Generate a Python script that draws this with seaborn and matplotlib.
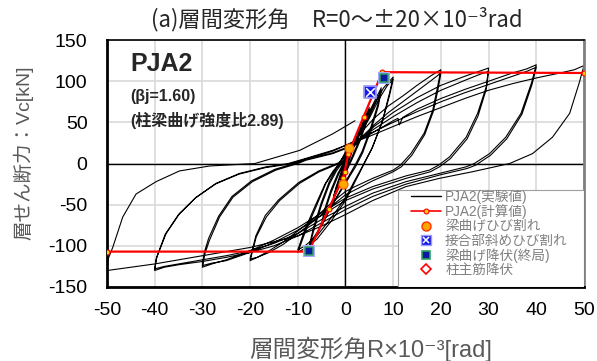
import matplotlib
matplotlib.use("Agg")
import pandas as pd
import matplotlib.pyplot as plt
from matplotlib.lines import Line2D
from matplotlib.patches import Rectangle
from matplotlib.legend_handler import HandlerTuple
import seaborn as sns

cyc_01a = [(0, 0), (0.5, 9), (1.0, 17), (0.7, 10), (0.2, 1), (-0.5, -9), (-1.0, -18), (-0.7, -11), (-0.2, -2)]
cyc_01b = [(0.5, 8), (1.0, 16), (0.7, 9), (0.2, 0), (-0.5, -10), (-1.0, -17), (-0.7, -10), (-0.2, -1)]
cyc_02a = [(1.0, 14), (2.0, 30), (2.5, 38), (2.0, 27), (1.0, 10), (0.0, -6), (-1.0, -20), (-2.0, -34),
           (-2.5, -42), (-2.0, -31), (-1.0, -14), (0.0, 2)]
cyc_02b = [(1.0, 13), (2.0, 28), (2.5, 36), (2.0, 25), (1.0, 8), (0.0, -8), (-1.0, -21), (-2.0, -33),
           (-2.5, -40), (-2.0, -29), (-1.0, -12), (0.0, 3)]
cyc_05a = [(1.5, 20), (3.0, 42), (4.2, 58), (5.0, 68), (4.3, 52), (3.0, 30), (1.5, 10), (0.0, -10),
           (-1.5, -28), (-3.0, -50), (-4.2, -66), (-5.0, -76), (-4.3, -58), (-3.0, -35), (-1.5, -14), (0.0, 4)]
cyc_05b = [(1.5, 18), (3.0, 38), (4.2, 55), (5.0, 65), (4.4, 50), (3.1, 28), (1.6, 8), (0.0, -12),
           (-1.5, -30), (-3.0, -50), (-4.2, -64), (-5.0, -73), (-4.4, -56), (-3.1, -33), (-1.6, -12), (0.0, 5)]
cyc_07a = [(1.5, 20), (3.0, 40), (5.0, 63), (6.5, 80), (7.5, 92), (6.8, 72), (5.2, 42), (3.5, 15), (2.0, -2),
           (0.0, -22), (-2.0, -42), (-4.0, -64), (-6.0, -86), (-7.5, -100), (-6.5, -78), (-5.0, -50),
           (-3.3, -24), (-1.8, -8), (-0.5, 2)]
cyc_07b = [(1.5, 18), (3.0, 36), (5.0, 58), (6.5, 76), (7.5, 89), (6.9, 70), (5.3, 40), (3.6, 13), (2.1, -4),
           (0.0, -24), (-2.0, -43), (-4.0, -63), (-6.0, -84), (-7.5, -97), (-6.6, -76), (-5.1, -48),
           (-3.4, -22), (-1.9, -6), (-0.6, 3)]
cyc_10a = [(0.5, 10), (2.5, 32), (4.0, 50), (6.0, 72), (8.0, 92), (10.0, 105), (9.2, 85), (7.8, 53),
           (5.7, 20), (3.6, -4), (2.0, -22), (0.0, -45), (-3.0, -70), (-6.0, -92), (-8.5, -103),
           (-10.0, -108), (-8.3, -81), (-6.2, -53), (-4.1, -24), (-2.5, -10), (-1.3, 0)]
cyc_10b = [(0.0, 12), (2.5, 30), (5.0, 55), (7.0, 78), (8.8, 95), (10.0, 102), (9.2, 82), (7.7, 50),
           (5.5, 18), (3.4, -5), (1.8, -22), (0.0, -42), (-3.0, -66), (-6.0, -88), (-8.5, -100),
           (-10.0, -105), (-8.5, -80), (-6.4, -52), (-4.3, -25), (-2.7, -10), (-1.3, 0)]
cyc_20a = [(0.0, 14), (3.0, 36), (6.0, 55), (9.0, 70), (12.0, 82), (15.0, 95), (18.0, 107), (20.0, 114),
           (19.3, 93), (18.3, 65), (16.5, 37), (13.7, 12), (11.5, -2), (10.0, -8), (5.7, -18), (2.0, -28),
           (0.0, -34), (-3.0, -48), (-6.0, -64), (-10.0, -82), (-13.0, -95), (-16.0, -106), (-18.5, -114),
           (-20.0, -118), (-18.7, -89), (-16.6, -65), (-13.8, -45), (-9.6, -24), (-5.5, -10), (-1.3, 0)]
cyc_20b = [(0.0, 10), (3.0, 30), (6.0, 47), (9.0, 62), (12.0, 75), (15.0, 88), (18.0, 101), (20.0, 110),
           (19.4, 90), (18.4, 63), (16.6, 35), (13.9, 10), (11.7, -4), (10.0, -10), (5.7, -21), (2.0, -32),
           (0.0, -38), (-3.0, -52), (-6.0, -67), (-10.0, -85), (-13.0, -98), (-16.0, -108), (-18.5, -114),
           (-20.0, -116), (-18.8, -88), (-16.8, -63), (-14.0, -44), (-9.8, -23), (-5.6, -9), (-1.4, 1)]
cyc_30a = [(0.0, 10), (3.0, 28), (6.0, 45), (10.0, 62), (15.0, 80), (20.0, 95), (25.0, 106), (28.0, 112),
           (30.0, 116), (29.5, 93), (27.7, 61), (25.3, 32), (21.8, 8), (19.5, -2), (17.6, -8), (12.7, -15),
           (5.7, -28), (0.0, -42), (-5.0, -60), (-10.0, -78), (-15.0, -93), (-20.0, -106), (-25.0, -117),
           (-28.0, -122), (-30.0, -126), (-29.5, -110), (-28.5, -93), (-26.4, -65), (-23.6, -41),
           (-19.5, -22), (-14.6, -8), (-10.0, 0), (-8.3, 4), (-2.7, 12)]
cyc_30b = [(0.0, 18), (3.0, 30), (6.0, 42), (10.0, 57), (15.0, 74), (20.0, 89), (25.0, 101), (28.0, 108),
           (30.0, 112), (29.5, 90), (27.8, 58), (25.5, 30), (22.0, 6), (19.7, -4), (17.8, -10), (12.7, -18),
           (5.7, -31), (0.0, -45), (-5.0, -63), (-10.0, -81), (-15.0, -96), (-20.0, -108), (-25.0, -118),
           (-28.0, -121), (-30.0, -124), (-29.6, -108), (-28.7, -91), (-26.6, -64), (-23.8, -40),
           (-19.7, -21), (-14.8, -7), (-10.2, 1), (-8.3, 5), (-2.7, 13)]
cyc_40a = [(0.0, 19), (5.0, 35), (10.0, 52), (11.0, 55), (11.3, 47), (12.0, 56), (15.0, 66), (20.0, 79),
           (25.0, 90), (30.0, 100), (35.0, 110), (38.0, 115), (40.0, 120), (39.0, 98), (36.8, 61),
           (33.6, 32), (30.2, 12), (27.0, 0), (25.3, -4), (19.7, -12), (12.7, -22), (5.7, -36), (0.0, -52),
           (-5.0, -68), (-10.0, -85), (-15.0, -97), (-20.0, -106), (-25.0, -112), (-30.0, -117),
           (-35.0, -122), (-38.0, -125), (-40.0, -128), (-39.6, -115), (-39.3, -110), (-37.6, -85),
           (-34.8, -61), (-31.3, -41), (-27.1, -24), (-22.2, -12), (-16.6, -4), (-12.0, 0), (-9.6, 4),
           (-2.7, 16)]
cyc_40b = [(0.0, 22), (5.0, 36), (10.0, 50), (15.0, 63), (20.0, 75), (25.0, 86), (30.0, 96), (35.0, 106),
           (38.0, 112), (40.0, 117), (39.1, 96), (37.0, 60), (33.8, 30), (30.4, 10), (27.3, -2), (25.5, -6),
           (19.7, -14), (12.7, -25), (5.7, -40), (0.0, -56), (-5.0, -72), (-10.0, -88), (-15.0, -100),
           (-20.0, -108), (-25.0, -114), (-30.0, -119), (-35.0, -123), (-38.0, -126), (-40.0, -130),
           (-39.7, -116), (-39.4, -111), (-37.8, -86), (-35.0, -62), (-31.5, -42), (-27.3, -25),
           (-22.4, -13), (-16.8, -5), (-12.2, -1), (-9.8, 3), (-2.7, 15)]
cyc_50 = [(0.0, 22), (5.0, 33), (10.0, 45), (15.0, 57), (20.0, 68), (25.0, 79), (30.0, 89), (35.0, 97),
          (40.0, 104), (45.0, 110), (48.0, 114), (50.0, 119), (49.0, 98), (47.0, 61), (43.4, 32), (39.2, 12),
          (34.4, 0), (26.6, -10), (19.7, -18), (12.7, -28), (5.7, -45), (0.0, -62), (-5.0, -76),
          (-10.0, -88), (-20.0, -102), (-30.0, -112), (-40.0, -122), (-45.0, -126), (-50.0, -130),
          (-49.7, -115), (-48.8, -102), (-46.7, -65), (-43.9, -37), (-39.7, -22), (-34.8, -9),
          (-28.5, -3), (-19.0, 0), (-9.6, 16), (-2.7, 36), (2.0, 52)]

# calculated skeleton (red)
calc_r = [-50, -7.7, -3.5, -0.5, -0.2, 0.6, 3.8, 7.7, 50]
calc_v = [-107, -107, -55, -17, -10.6, 12, 57, 111, 110]

# event markers
crack_r, crack_v = [0.7, -0.5], [19, -24.4]          # beam flexural crack
joint_r, joint_v = [5.2], [87]                       # joint diagonal crack
yield_r, yield_v = [8.0, -7.7], [103.6, -106.6]      # beam flexural yield
col_r, col_v = [], []                                # column rebar yield (none on plot)

cycles = [cyc_01a, cyc_01b, cyc_02a, cyc_02b, cyc_05a, cyc_05b, cyc_07a, cyc_07b,
          cyc_10a, cyc_10b, cyc_20a, cyc_20b, cyc_30a, cyc_30b, cyc_40a, cyc_40b, cyc_50]
exp = pd.DataFrame([p for c in cycles for p in c], columns=['R', 'V'])

sns.set_style('white')
plt.rcParams['font.family'] = ['Liberation Sans', 'Noto Sans CJK JP', 'DejaVu Sans']
plt.rcParams['axes.unicode_minus'] = False

fig = plt.figure(figsize=(5.97, 3.61), dpi=100)
ax = fig.add_axes([0.1792, 0.205, 0.799, 0.684])

ax.grid(True, color='#d9d9d9', lw=1.2)
ax.set_axisbelow(True)
ax.axhline(0, color='black', lw=1, zorder=1.5)
ax.axvline(0, color='black', lw=1, zorder=1.5)

sns.lineplot(data=exp, x='R', y='V', sort=False, estimator=None, color='black', lw=0.8, ax=ax, zorder=2)
sns.lineplot(x=calc_r, y=calc_v, sort=False, estimator=None, color='red', lw=1.6, marker='o',
             markersize=3.5, markerfacecolor='#ffd400', markeredgecolor='red', markeredgewidth=0.8,
             ax=ax, zorder=3)

ax.scatter(crack_r, crack_v, marker='o', s=42, color='#ffa500', edgecolor='#ff5a00', lw=0.8, zorder=5)
ax.scatter(joint_r, joint_v, marker='s', s=70, color='#1a1ae6', edgecolor='#9a9aff', lw=1.3, zorder=5)
ax.scatter(joint_r, joint_v, marker='x', s=38, color='white', lw=1.1, zorder=6)
ax.scatter(yield_r, yield_v, marker='s', s=75, color='#a8a8ff', edgecolor='none', zorder=5)
ax.scatter(yield_r, yield_v, marker='s', s=38, color='#0a1aa0', edgecolor='#2ea060', lw=1.1, zorder=6)
ax.scatter(col_r, col_v, marker='D', s=20, facecolor='white', edgecolor='red', lw=1.2, zorder=6)

ax.set_xlim(-50, 50)
ax.set_ylim(-150, 150)
ax.set_xticks(range(-50, 51, 10))
ax.set_yticks(range(-150, 151, 50))
ax.tick_params(direction='in', length=5, width=1.5, labelsize=14, colors='black')
ax.tick_params(axis='x', pad=11)
ax.tick_params(axis='y', pad=14)

for side in ['left', 'bottom']:
    ax.spines[side].set_color('black')
    ax.spines[side].set_linewidth(2)
ax.spines['top'].set_color('black')
ax.spines['top'].set_linewidth(1.2)
ax.spines['right'].set_color('#808080')
ax.spines['right'].set_linewidth(2)

ax.set_xlabel('層間変形角R×10⁻³[rad]', fontsize=17, color='#595959')
ax.xaxis.set_label_coords(0.553, -0.2)
ax.set_ylabel('層せん断力：Vc[kN]', fontsize=14, color='#595959')
ax.yaxis.set_label_coords(-0.155, 0.545)

fig.text(0.565, 0.948, '(a)層間変形角\u3000R=0～±20×10⁻³rad', fontsize=16, ha='center', va='center',
         family=['Noto Sans CJK JP', 'DejaVu Sans'])

ax.text(0.048, 0.95, 'PJA2', transform=ax.transAxes, fontsize=18, fontweight='bold', va='top')
ax.text(0.048, 0.77, '(βj=1.60)', transform=ax.transAxes, fontsize=11.5, fontweight='bold', va='center')
ax.text(0.048, 0.675, '(柱梁曲げ強度比2.89)', transform=ax.transAxes, fontsize=11.5, fontweight='bold',
        va='center')

handles = [
    Line2D([], [], color='black', lw=1),
    Line2D([], [], color='red', lw=1.2, marker='o', ms=3.5, mfc='#ffd400', mec='red', mew=0.8),
    Line2D([], [], ls='none', marker='o', ms=6.5, mfc='#ffa500', mec='#ff3000'),
    (Line2D([], [], ls='none', marker='s', ms=6.5, mfc='#1a1ae6', mec='#9a9aff', mew=1.0),
     Line2D([], [], ls='none', marker='x', ms=4.5, mec='white', mew=1.1)),
    Line2D([], [], ls='none', marker='s', ms=6, mfc='#0a1aa0', mec='#2ea060', mew=1.2),
    Line2D([], [], ls='none', marker='D', ms=5, mfc='white', mec='red', mew=1.2),
]
labels = ['PJA2(実験値)', 'PJA2(計算値)', '梁曲げひび割れ', '接合部斜めひび割れ', '梁曲げ降伏(終局)', '柱主筋降伏']

# white legend box sitting on the lower-right corner of the axes
box = Rectangle((0.610, 0.0), 0.390, 0.393, transform=ax.transAxes, facecolor='white',
                edgecolor='#a0a0a0', lw=0.8, zorder=8)
ax.add_patch(box)
leg = ax.legend(handles, labels, loc='upper left', bbox_to_anchor=(0.636, 0.396), borderaxespad=0,
                frameon=False, fontsize=9.8, labelcolor='#808080', handlelength=2.2, labelspacing=0.02,
                borderpad=0.05, handletextpad=0.3, handler_map={tuple: HandlerTuple(ndivide=1)})
leg.set_zorder(9)

fig.savefig('out.png', dpi=100)
